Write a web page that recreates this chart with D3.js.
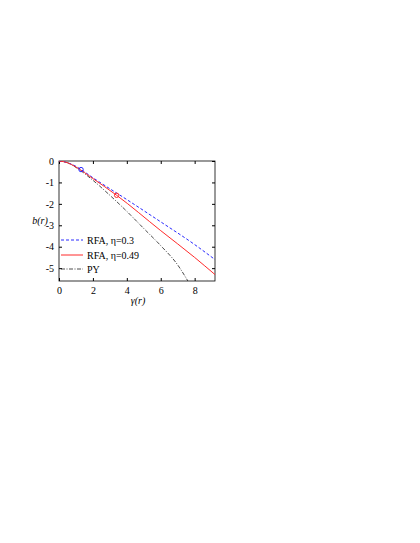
<!DOCTYPE html><html><head><meta charset="utf-8"><script src="https://cdn.jsdelivr.net/npm/d3@7"></script>
<style>body{margin:0;background:#fff}text{font-family:"Liberation Serif",serif;font-size:10px;fill:#000}</style></head><body><svg width="420" height="543"></svg>
<script>
const xTicks=[0,2,4,6,8], yTicks=[0,-1,-2,-3,-4,-5];
const blueX=[0,0.5,1,1.3,2,4,6,8,9.2], blueY=[0,-0.08,-0.25,-0.4,-0.78,-1.8,-2.84,-3.9,-4.6];
const redX=[0,0.5,1,2,3.4,6,8,9.2], redY=[0,-0.08,-0.28,-0.82,-1.6,-3.25,-4.5,-5.3];
const pyX=[0,0.5,1,2,3,4,5,6,7,7.6], pyY=[0,-0.08,-0.3,-0.9,-1.6,-2.35,-3.15,-3.95,-4.85,-5.6];
const markers=[{x:1.3,y:-0.4,c:"#2a2aff"},{x:3.4,y:-1.6,c:"#ff2a2a"}];
const svg=d3.select("svg");
const L=59,R=215,T=161,B=281;
const x=d3.scaleLinear([0,9.2],[L,R]), y=d3.scaleLinear([-5.6,0],[B,T]);
const g=svg.append("g");
g.append("rect").attr("x",L).attr("y",T).attr("width",R-L).attr("height",B-T).attr("fill","none").attr("stroke","#000").attr("stroke-width",0.8);
g.append("g").attr("transform",`translate(0,${B})`).call(d3.axisBottom(x).tickValues(xTicks).tickSizeInner(-3).tickSizeOuter(0).tickPadding(6)).call(a=>a.select(".domain").remove());
g.append("g").attr("transform",`translate(0,${T})`).call(d3.axisTop(x).tickValues(xTicks).tickSizeInner(-3).tickSizeOuter(0).tickFormat("")).call(a=>a.select(".domain").remove());
g.append("g").attr("transform",`translate(${L},0)`).call(d3.axisLeft(y).tickValues(yTicks).tickSizeInner(-3).tickSizeOuter(0).tickPadding(5).tickFormat(d=>d===0?"0":String(d).replace("−","-"))).call(a=>a.select(".domain").remove());
g.append("g").attr("transform",`translate(${R},0)`).call(d3.axisRight(y).tickValues(yTicks).tickSizeInner(-3).tickSizeOuter(0).tickFormat("")).call(a=>a.select(".domain").remove());
svg.selectAll(".tick text").attr("font-family","Liberation Serif").attr("font-size",10).attr("fill","#000");
svg.append("defs").append("clipPath").attr("id","c").append("rect").attr("x",L).attr("y",T).attr("width",R-L).attr("height",B-T);
const line=d3.line().x(d=>x(d[0])).y(d=>y(d[1])).curve(d3.curveMonotoneX);
const series=[[pyX,pyY,"#000","4,1.5,1,1.5"],[blueX,blueY,"#2a2aff","3,2"],[redX,redY,"#ff2a2a",null]];
series.forEach(([xs,ys,c,da])=>{svg.append("path").attr("clip-path","url(#c)").attr("d",line(xs.map((v,i)=>[v,ys[i]]))).attr("fill","none").attr("stroke",c).attr("stroke-width",c==="#000"?0.7:1).attr("stroke-dasharray",da);});
svg.selectAll(".m").data(markers).join("circle").attr("cx",d=>x(d.x)).attr("cy",d=>y(d.y)).attr("r",2.2).attr("fill","none").attr("stroke",d=>d.c).attr("stroke-width",1);
const leg=[["RFA, η=0.3","#2a2aff","3,2",240],["RFA, η=0.49","#ff2a2a",null,255],["PY","#000","4,1.5,1,1.5",269]];
leg.forEach(([t,c,da,yy])=>{svg.append("line").attr("x1",61).attr("x2",83).attr("y1",yy).attr("y2",yy).attr("stroke",c).attr("stroke-width",c==="#000"?0.7:1).attr("stroke-dasharray",da);
svg.append("text").attr("x",87).attr("y",yy+3.5).text(t);});
svg.append("text").attr("x",40).attr("y",224).attr("text-anchor","middle").attr("font-style","italic").text("b(r)");
svg.append("text").attr("x",138).attr("y",304).attr("text-anchor","middle").attr("font-style","italic").text("γ(r)");
</script></body></html>
